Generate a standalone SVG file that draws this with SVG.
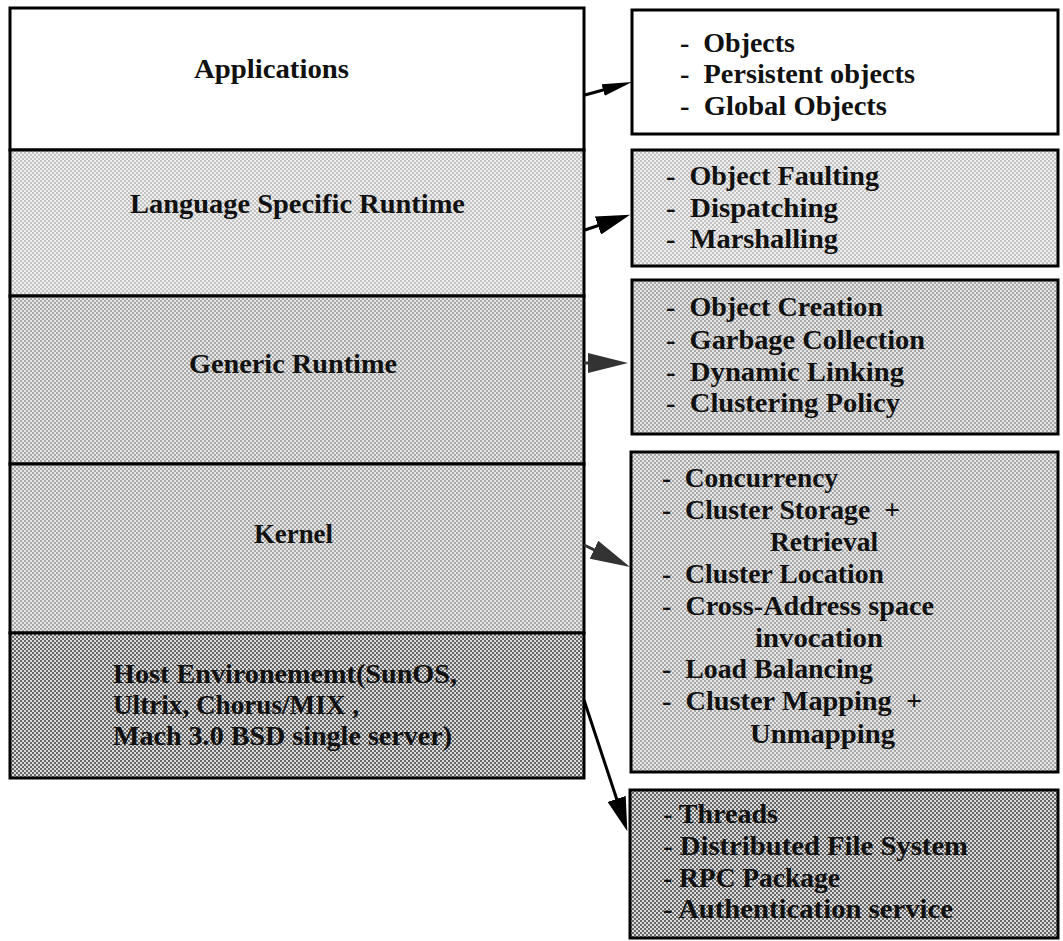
<svg xmlns="http://www.w3.org/2000/svg" width="1063" height="941" viewBox="0 0 1063 941">
  <style>
    .box { stroke: #000; stroke-width: 3; }
    .lbl { font-family: "Liberation Serif", "Times New Roman", serif; font-size: 27px; font-weight: bold; fill: #111; }
    .item { font-family: "Liberation Serif", "Times New Roman", serif; font-size: 27px; font-weight: bold; fill: #111; white-space: pre; }
    .wire { fill: none; stroke-width: 3; }
    .wire.black { stroke: #000; }
    .wire.grey { stroke: #333; }
  </style>
  <defs>
    <!-- halftone screens: light, medium and dark -->
    <pattern id="screen-light" width="4" height="4" patternUnits="userSpaceOnUse">
      <rect width="4" height="4" fill="#efefef"/>
      <rect x="0" y="0" width="2" height="2" fill="#c2c2c2"/>
      <rect x="2" y="2" width="2" height="2" fill="#c2c2c2"/>
    </pattern>
    <pattern id="screen-mid" width="4" height="4" patternUnits="userSpaceOnUse">
      <rect width="4" height="4" fill="#e6e6e6"/>
      <rect x="0" y="0" width="2" height="2" fill="#a8a8a8"/>
      <rect x="2" y="2" width="2" height="2" fill="#a8a8a8"/>
    </pattern>
    <pattern id="screen-dark" width="4" height="4" patternUnits="userSpaceOnUse">
      <rect width="4" height="4" fill="#dcdcdc"/>
      <rect x="0" y="0" width="2" height="2" fill="#666"/>
      <rect x="2" y="2" width="2" height="2" fill="#666"/>
    </pattern>
    <marker id="head-black" markerUnits="userSpaceOnUse" markerWidth="30" markerHeight="12" refX="15" refY="6" orient="auto">
      <path d="M0,0 L30,6 L0,12 z" fill="#000"/>
    </marker>
    <marker id="head-black-lg" markerUnits="userSpaceOnUse" markerWidth="34" markerHeight="19" refX="18" refY="9.5" orient="auto">
      <path d="M0,0 L34,9.5 L0,19 z" fill="#000"/>
    </marker>
    <marker id="head-grey" markerUnits="userSpaceOnUse" markerWidth="40" markerHeight="20" refX="20" refY="10" orient="auto">
      <path d="M0,0 L40,10 L0,20 z" fill="#333"/>
    </marker>
  </defs>

  <rect width="1063" height="941" fill="#fff"/>

  <!-- layered stack -->
  <g id="applications">
    <rect class="box" x="10" y="8" width="574" height="142" fill="#fff"/>
    <text class="lbl" x="194" y="78" textLength="155" lengthAdjust="spacingAndGlyphs">Applications</text>
  </g>
  <g id="language-runtime">
    <rect class="box" x="10" y="150" width="574" height="146" fill="url(#screen-light)"/>
    <text class="lbl" x="130" y="213" textLength="335" lengthAdjust="spacingAndGlyphs">Language Specific Runtime</text>
  </g>
  <g id="generic-runtime">
    <rect class="box" x="10" y="296" width="574" height="168" fill="url(#screen-mid)"/>
    <text class="lbl" x="189" y="373" textLength="208" lengthAdjust="spacingAndGlyphs">Generic Runtime</text>
  </g>
  <g id="kernel">
    <rect class="box" x="10" y="464" width="574" height="169" fill="url(#screen-mid)"/>
    <text class="lbl" x="254" y="543" textLength="79" lengthAdjust="spacingAndGlyphs">Kernel</text>
  </g>
  <g id="host-environment">
    <rect class="box" x="10" y="633" width="574" height="145" fill="url(#screen-dark)"/>
    <text class="lbl" x="113" y="683" textLength="344" lengthAdjust="spacingAndGlyphs">Host Environememt(SunOS,</text>
    <text class="lbl" x="113" y="714" textLength="246" lengthAdjust="spacingAndGlyphs">Ultrix, Chorus/MIX ,</text>
    <text class="lbl" x="113" y="745" textLength="339" lengthAdjust="spacingAndGlyphs">Mach 3.0 BSD single server)</text>
  </g>

  <!-- feature lists -->
  <g id="app-features">
    <rect class="box" x="632" y="10" width="426" height="124" fill="#fff"/>
    <text class="item" x="680" y="52" textLength="115" lengthAdjust="spacingAndGlyphs">-  Objects</text>
    <text class="item" x="680" y="83" textLength="235" lengthAdjust="spacingAndGlyphs">-  Persistent objects</text>
    <text class="item" x="680" y="115" textLength="207" lengthAdjust="spacingAndGlyphs">-  Global Objects</text>
  </g>
  <g id="language-features">
    <rect class="box" x="632" y="150" width="426" height="116" fill="url(#screen-light)"/>
    <text class="item" x="666" y="185" textLength="213" lengthAdjust="spacingAndGlyphs">-  Object Faulting</text>
    <text class="item" x="666" y="217" textLength="172" lengthAdjust="spacingAndGlyphs">-  Dispatching</text>
    <text class="item" x="666" y="248" textLength="172" lengthAdjust="spacingAndGlyphs">-  Marshalling</text>
  </g>
  <g id="generic-features">
    <rect class="box" x="632" y="280" width="426" height="154" fill="url(#screen-mid)"/>
    <text class="item" x="666" y="316" textLength="217" lengthAdjust="spacingAndGlyphs">-  Object Creation</text>
    <text class="item" x="666" y="349" textLength="259" lengthAdjust="spacingAndGlyphs">-  Garbage Collection</text>
    <text class="item" x="666" y="381" textLength="238" lengthAdjust="spacingAndGlyphs">-  Dynamic Linking</text>
    <text class="item" x="666" y="412" textLength="234" lengthAdjust="spacingAndGlyphs">-  Clustering Policy</text>
  </g>
  <g id="kernel-features">
    <rect class="box" x="631" y="452" width="427" height="320" fill="url(#screen-mid)"/>
    <text class="item" x="662" y="487" textLength="176" lengthAdjust="spacingAndGlyphs">-  Concurrency</text>
    <text class="item" x="662" y="519" textLength="238" lengthAdjust="spacingAndGlyphs">-  Cluster Storage  +</text>
    <text class="item" x="770" y="551" textLength="108" lengthAdjust="spacingAndGlyphs">Retrieval</text>
    <text class="item" x="662" y="583" textLength="222" lengthAdjust="spacingAndGlyphs">-  Cluster Location</text>
    <text class="item" x="662" y="615" textLength="272" lengthAdjust="spacingAndGlyphs">-  Cross-Address space</text>
    <text class="item" x="755" y="647" textLength="128" lengthAdjust="spacingAndGlyphs">invocation</text>
    <text class="item" x="662" y="678" textLength="211" lengthAdjust="spacingAndGlyphs">-  Load Balancing</text>
    <text class="item" x="662" y="710" textLength="260" lengthAdjust="spacingAndGlyphs">-  Cluster Mapping  +</text>
    <text class="item" x="750" y="743" textLength="145" lengthAdjust="spacingAndGlyphs">Unmapping</text>
  </g>
  <g id="host-features">
    <rect class="box" x="630" y="790" width="428" height="148" fill="url(#screen-dark)"/>
    <text class="item" x="663" y="823" textLength="115" lengthAdjust="spacingAndGlyphs">- Threads</text>
    <text class="item" x="663" y="855" textLength="305" lengthAdjust="spacingAndGlyphs">- Distributed File System</text>
    <text class="item" x="663" y="887" textLength="177" lengthAdjust="spacingAndGlyphs">- RPC Package</text>
    <text class="item" x="663" y="918" textLength="290" lengthAdjust="spacingAndGlyphs">- Authentication service</text>
  </g>

  <!-- connectors from each layer to its feature list -->
  <g id="connectors">
    <line class="wire black" x1="585" y1="95" x2="617.6" y2="86" marker-end="url(#head-black)"/>
    <line class="wire black" x1="585" y1="230" x2="615" y2="219.8" marker-end="url(#head-black-lg)"/>
    <line class="wire grey" x1="584" y1="363" x2="608" y2="363" marker-end="url(#head-grey)"/>
    <line class="wire grey" x1="584" y1="545" x2="612" y2="558.4" marker-end="url(#head-grey)"/>
    <line class="wire black" x1="584" y1="700" x2="622.3" y2="816" marker-end="url(#head-black-lg)"/>
  </g>
</svg>
